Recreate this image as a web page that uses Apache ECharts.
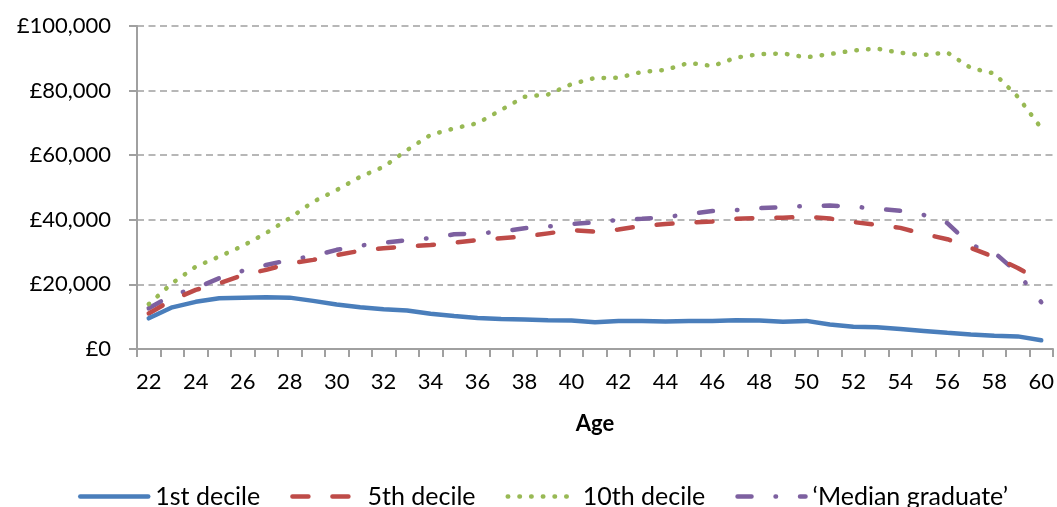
<!DOCTYPE html>
<html>
<head>
<meta charset="utf-8">
<script src="https://cdn.jsdelivr.net/npm/echarts@6/dist/echarts.min.js"></script>
<style>
html,body{margin:0;padding:0;background:#fff;}
#chart{width:1057px;height:507px;}
</style>
</head>
<body>
<div id="chart"></div>
<script>
const ages = [22,23,24,25,26,27,28,29,30,31,32,33,34,35,36,37,38,39,40,41,42,43,44,45,46,47,48,49,50,51,52,53,54,55,56,57,58,59,60];
const seriesNames = ['1st decile', '5th decile', '10th decile', '\u2018Median graduate\u2019'];
const decile1 = [9500,12900,14600,15700,15900,16000,15900,14900,13800,12900,12300,11900,10900,10200,9600,9300,9100,8900,8800,8300,8700,8700,8500,8700,8700,8900,8800,8400,8700,7600,6900,6700,6200,5600,5000,4500,4100,3900,2700];
const decile5 = [11000,15200,18300,20300,22900,24500,26500,27600,29100,30400,31200,31700,32200,32900,33700,34300,34800,35800,36800,36300,37000,38100,38700,39100,39500,40300,40600,40600,41000,40400,39300,38400,37500,35600,34000,31300,28500,25100,21000];
const decile10 = [13900,20400,25500,28600,31900,35900,40500,45600,49200,53300,56400,61600,66300,68300,69900,74000,78100,78800,82000,83900,84000,85800,86400,88600,87600,90200,91300,91500,90300,91300,92400,93000,91700,91000,91800,87000,85300,78100,68400];
const medianGrad = [12600,16700,18800,21900,24200,26000,27600,28800,30700,32000,32900,33700,34300,35500,35800,36300,37400,37900,38700,39200,40000,40300,40800,41800,42700,43000,43600,43900,44300,44400,44100,43400,42800,41500,39000,32200,29900,23500,14500];
const yTicks = [0,20000,40000,60000,80000,100000];

const colors = ['#4A7EBB', '#BE4B48', '#98B954', '#7D60A0'];
const styles = [
  {width: 4.5, type: 'solid', cap: 'round'},
  {width: 4.5, type: [16, 24], cap: 'round'},
  {width: 4.5, type: [0.5, 11.2], cap: 'round'},
  {width: 4.5, type: [14, 24, 0.5, 24], cap: 'round'}
];
const allData = [decile1, decile5, decile10, medianGrad];
const FONT = 'Lato';

const chart = echarts.init(document.getElementById('chart'), null, {renderer: 'canvas'});
chart.setOption({
  animation: false,
  backgroundColor: '#fff',
  textStyle: {fontFamily: FONT},
  grid: {left: 137, right: 4, top: 26, bottom: 158, containLabel: false},
  legend: {
    left: 73, top: 479,
    itemWidth: 68, itemHeight: 10, itemGap: 30,
    textStyle: {fontFamily: FONT, fontSize: 25, color: '#000', padding: [0,0,0,2]},
    data: seriesNames.map((n, i) => ({
      name: n,
      itemStyle: {opacity: 0},
      lineStyle: Object.assign({color: colors[i]}, styles[i])
    }))
  },
  xAxis: {
    type: 'category',
    data: ages,
    boundaryGap: true,
    name: 'Age',
    nameLocation: 'middle',
    nameGap: 64,
    nameTextStyle: {fontFamily: FONT, fontSize: 22, fontWeight: 'bold', color: '#000'},
    axisLine: {lineStyle: {color: '#A0A0A0', width: 2}},
    axisTick: {show: true, interval: 0, length: 8, lineStyle: {color: '#A0A0A0', width: 2}},
    axisLabel: {interval: 1, margin: 22, fontFamily: FONT, fontSize: 22, color: '#000'},
    splitLine: {show: false}
  },
  yAxis: {
    type: 'value',
    min: yTicks[0], max: yTicks[yTicks.length - 1], interval: yTicks[1] - yTicks[0],
    axisLine: {show: true, lineStyle: {color: '#A0A0A0', width: 2}},
    axisTick: {show: true, length: 8, lineStyle: {color: '#A0A0A0', width: 2}},
    axisLabel: {
      margin: 26, fontFamily: FONT, fontSize: 22, color: '#000',
      formatter: v => '\u00A3' + v.toLocaleString('en-GB')
    },
    splitLine: {show: true, lineStyle: {color: '#A0A0A0', width: 1.6, type: [7, 4.5]}}
  },
  series: allData.map((d, i) => ({
    name: seriesNames[i],
    type: 'line',
    data: d,
    symbol: 'none',
    showSymbol: false,
    smooth: false,
    z: 10 - i,
    lineStyle: Object.assign({color: colors[i]}, styles[i]),
    itemStyle: {color: colors[i]}
  }))
});
</script>
</body>
</html>
